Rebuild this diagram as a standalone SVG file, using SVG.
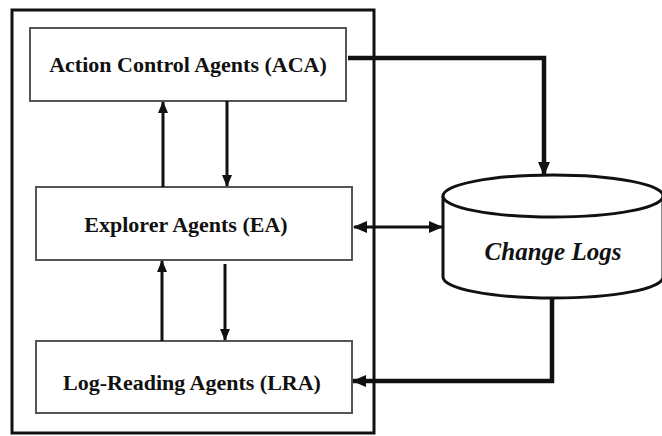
<svg xmlns="http://www.w3.org/2000/svg" width="662" height="436" viewBox="0 0 662 436">
  <style>
    .frame { fill: none; stroke: #111; stroke-width: 3; }
    .box { fill: #fff; stroke: #555; stroke-width: 2; }
    .label { font-family: "Liberation Serif", "Times New Roman", serif; font-weight: bold; font-size: 22px; fill: #111; text-anchor: middle; }
    .store { font-family: "Liberation Serif", "Times New Roman", serif; font-weight: bold; font-style: italic; font-size: 25px; fill: #111; text-anchor: middle; }
    .thin { fill: none; stroke: #111; stroke-width: 3; }
    .thick { fill: none; stroke: #111; stroke-width: 4.5; }
    .cyl { fill: #fff; stroke: #111; stroke-width: 3; }
  </style>
  <defs>
    <marker id="headSmall" markerUnits="userSpaceOnUse" markerWidth="12" markerHeight="12" viewBox="0 0 12 12" refX="11" refY="6" orient="auto-start-reverse">
      <path d="M0,1 L12,6 L0,11 Z" fill="#111"/>
    </marker>
    <marker id="headBig" markerUnits="userSpaceOnUse" markerWidth="14" markerHeight="14" viewBox="0 0 14 14" refX="13" refY="7" orient="auto-start-reverse">
      <path d="M0,1 L14,7 L0,13 Z" fill="#111"/>
    </marker>
  </defs>

  <!-- agent system boundary -->
  <rect id="agent-system" class="frame" x="12" y="10" width="362" height="423"/>

  <g id="aca">
    <rect class="box" x="30" y="28" width="316" height="73"/>
    <text class="label" x="188" y="72">Action Control Agents (ACA)</text>
  </g>

  <g id="ea">
    <rect class="box" x="36" y="187" width="316" height="73"/>
    <text class="label" x="186" y="232">Explorer Agents (EA)</text>
  </g>

  <g id="lra">
    <rect class="box" x="36" y="341" width="316" height="72"/>
    <text class="label" x="192" y="390">Log-Reading Agents (LRA)</text>
  </g>

  <g id="change-logs">
    <path class="cyl" d="M443,196 L443,277 A110,21 0 0 0 663,277 L663,196"/>
    <ellipse class="cyl" cx="553" cy="196" rx="110" ry="21"/>
    <text class="store" x="553" y="260">Change Logs</text>
  </g>

  <g id="connectors">
    <!-- between ACA and EA -->
    <line class="thin" x1="163" y1="187" x2="163" y2="102" marker-end="url(#headSmall)"/>
    <line class="thin" x1="227" y1="101" x2="227" y2="186" marker-end="url(#headSmall)"/>
    <!-- between EA and LRA -->
    <line class="thin" x1="162" y1="341" x2="162" y2="261" marker-end="url(#headSmall)"/>
    <line class="thin" x1="225" y1="264" x2="225" y2="340" marker-end="url(#headSmall)"/>
    <!-- ACA writes to the change logs -->
    <path class="thick" d="M348,58 H544 V175" marker-end="url(#headBig)"/>
    <!-- EA reads and writes the change logs -->
    <line class="thin" x1="354" y1="227" x2="442" y2="227" stroke-width="3.5" marker-start="url(#headBig)" marker-end="url(#headBig)"/>
    <!-- change logs feed LRA -->
    <path class="thick" d="M552,298 V381 H353" marker-end="url(#headBig)"/>
  </g>
</svg>
